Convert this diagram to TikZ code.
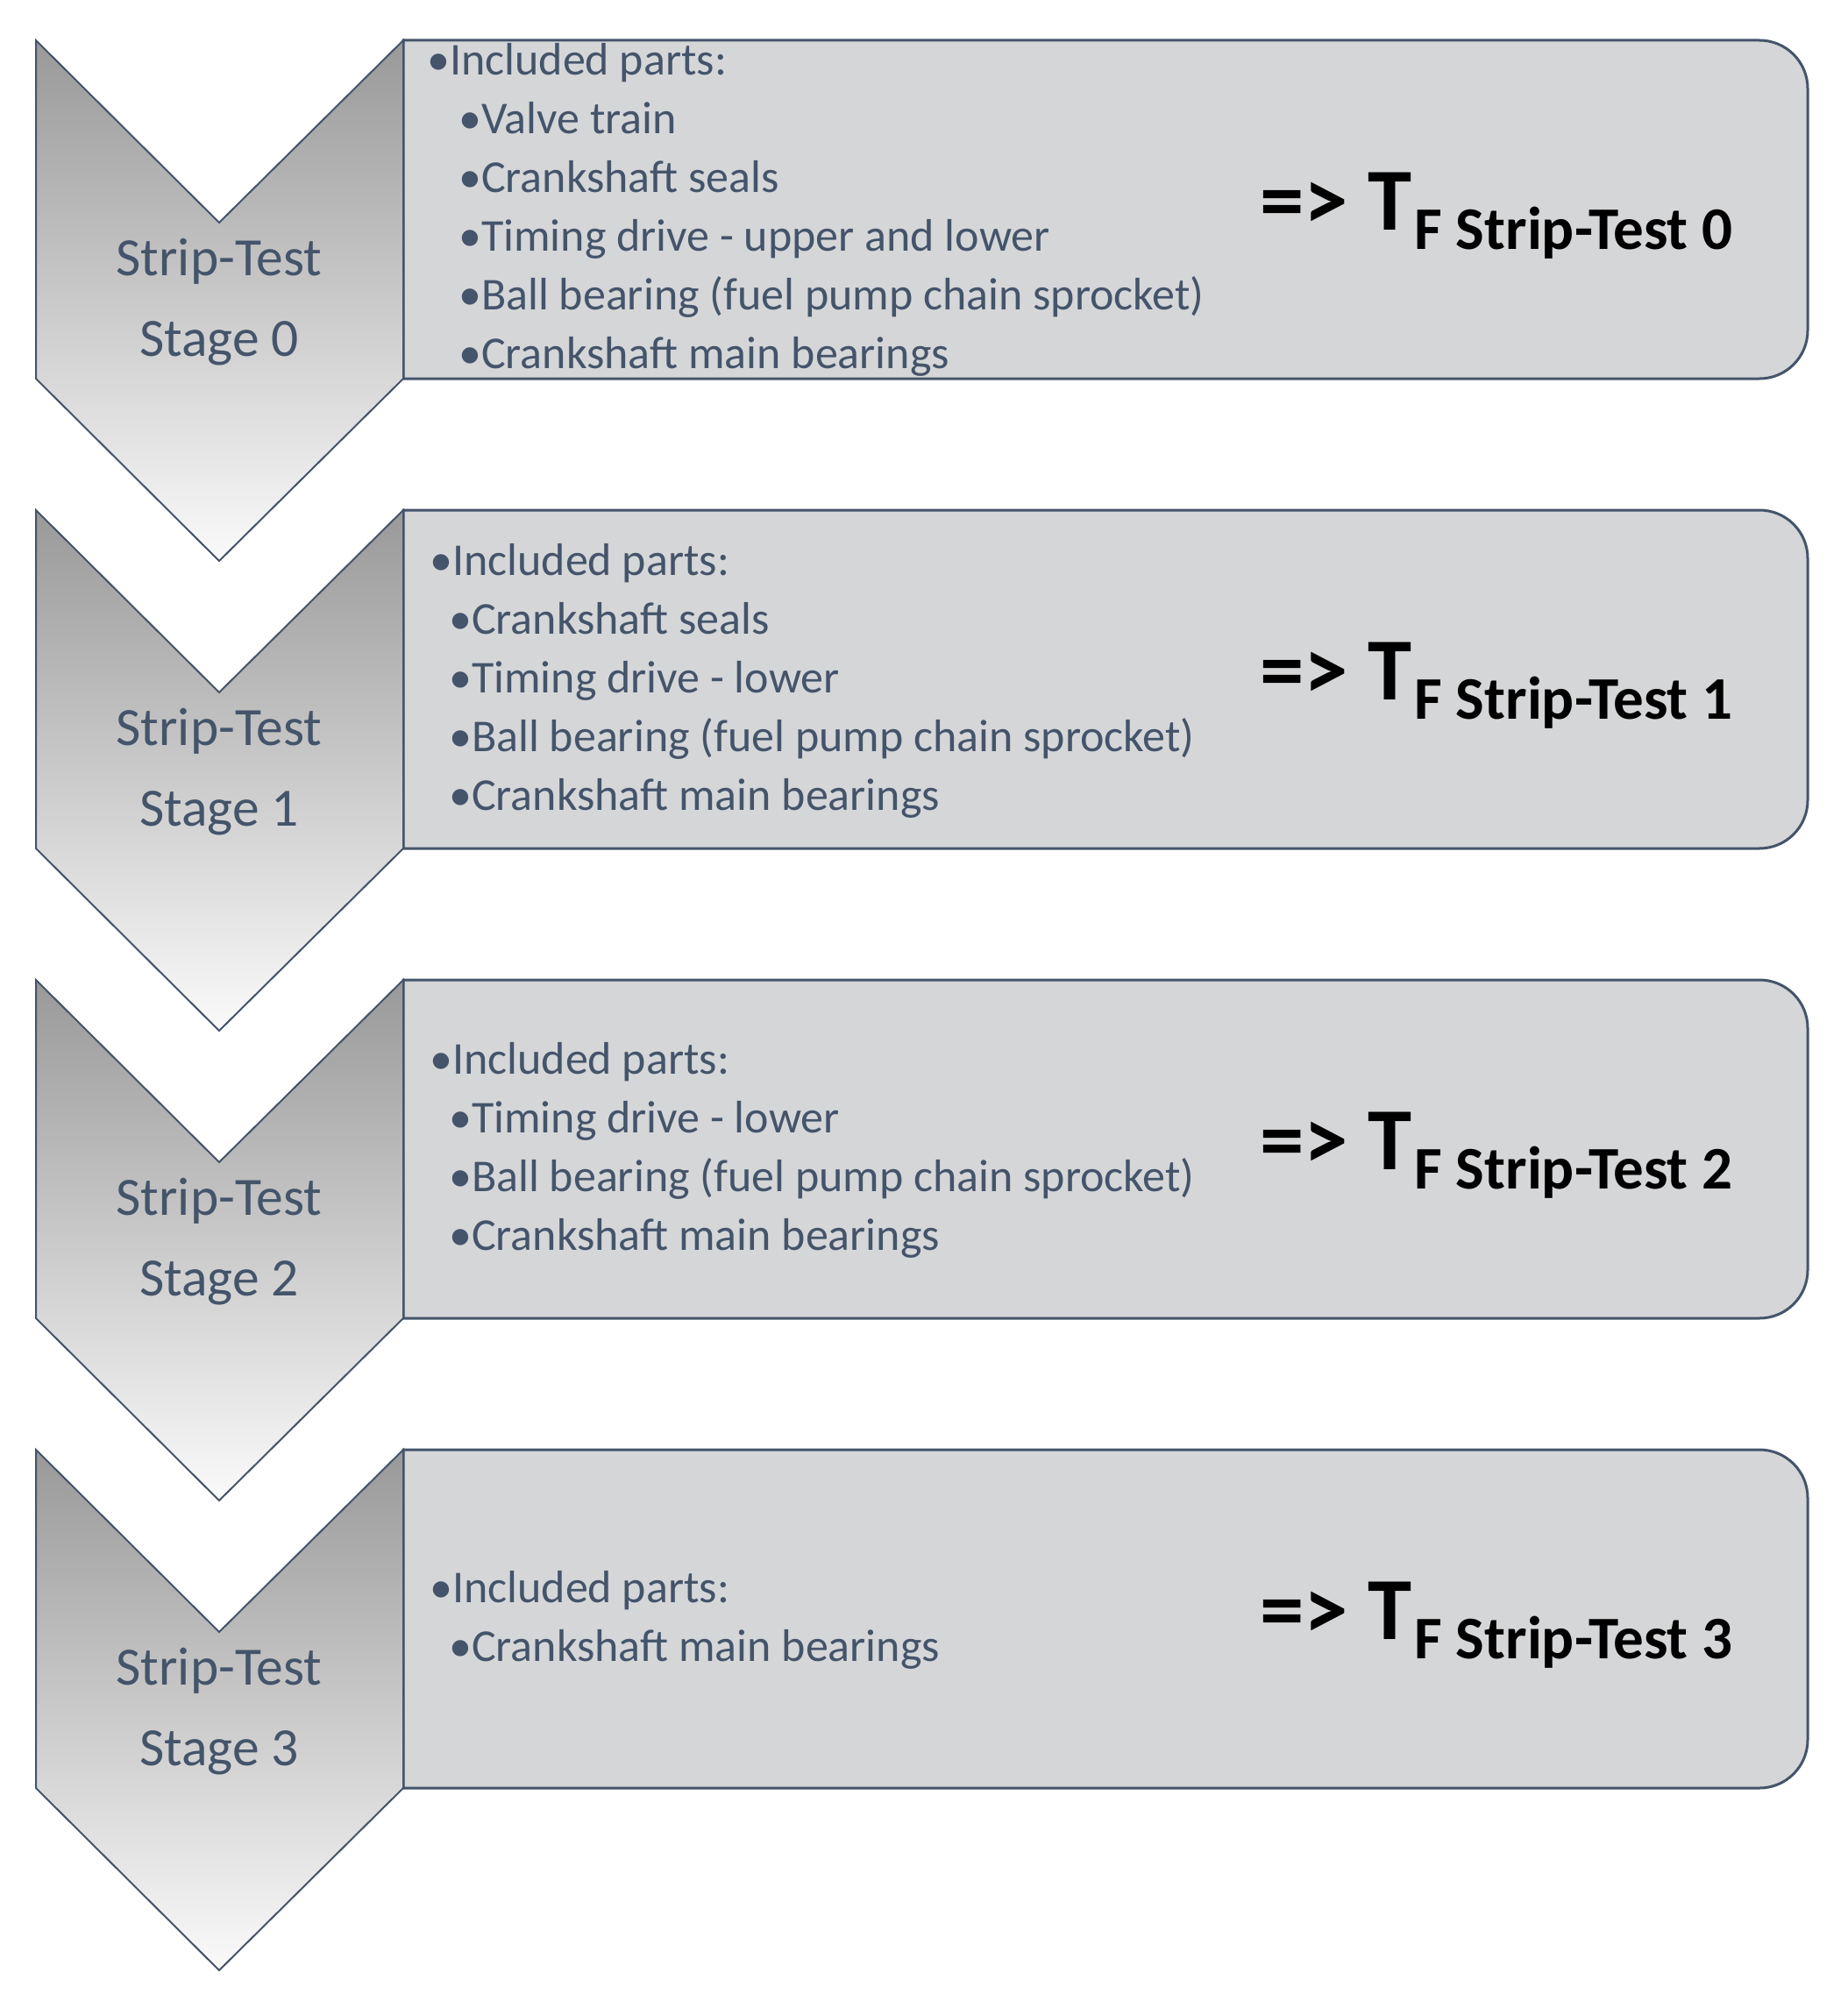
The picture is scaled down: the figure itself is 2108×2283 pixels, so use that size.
\documentclass[tikz,border=0pt]{standalone}
\usepackage{fontspec}
\setmainfont{Carlito}
\usepackage{tikz}
\usetikzlibrary{calc}

\definecolor{slate}{HTML}{44546A}
\definecolor{boxgrey}{HTML}{D5D6D8}

\tikzset{
  chevron/.style={draw=slate, line width=2pt, top color=black!40, bottom color=black!2},
  partbox/.style={draw=slate, line width=3pt, fill=boxgrey},
  stagetext/.style={text=slate, font=\fontsize{61.5}{72}\selectfont, anchor=base, inner sep=0pt},
  parttext/.style={text=slate, font=\fontsize{52}{61}\selectfont, anchor=base west, inner sep=0pt},
  result/.style={font=\bfseries\fontsize{101}{110}\selectfont, anchor=base west, inner sep=0pt}
}

\begin{document}
\begin{tikzpicture}[x=1pt, y=-1pt]

    \useasboundingbox (0,0) rectangle (2108,2283);

    % -------------------------
    % Boxes and chevrons
    % -------------------------
    \foreach \k in {0,...,3} {
        \begin{scope}[yshift={-\k*536pt}]
            \draw[partbox] (460,46) -- (2007,46)
                arc[start angle=-90, end angle=0, radius=55] -- (2062,377)
                arc[start angle=0, end angle=90, radius=55] -- (460,432) -- cycle;
            \draw[chevron] (41,46) -- (250,254) -- (460,46) -- (460,432)
                -- (250,640) -- (41,432) -- cycle;
        \end{scope}
    }

    % -------------------------
    % Stage labels and results
    % -------------------------
    \foreach \k in {0,...,3} {
        \node[stagetext] (strip\k) at (250,{314+536*\k}) {Strip-Test};
        \node[stagetext] (stage\k) at (250,{406+536*\k}) {Stage \k};
        \node[result] (tf\k) at (1437,{262+536*\k})
            {=>~T\kern3pt\raisebox{-22pt}{\fontsize{69}{69}\selectfont F Strip-Test \k}};
    }

    % -------------------------
    % Included parts
    % -------------------------

    % Stage 0
    \node[parttext] (inc0) at (487,85) {•Included parts:};
    \node[parttext] (p0a) at (523,152) {•Valve train};
    \node[parttext] (p0b) at (523,219) {•Crankshaft seals};
    \node[parttext] (p0c) at (523,286) {•Timing drive - upper and lower};
    \node[parttext] (p0d) at (523,353) {•Ball bearing (fuel pump chain sprocket)};
    \node[parttext] (p0e) at (523,420) {•Crankshaft main bearings};

    % Stage 1
    \node[parttext] (inc1) at (490,656) {•Included parts:};
    \node[parttext] (p1a) at (512,723) {•Crankshaft seals};
    \node[parttext] (p1b) at (512,790) {•Timing drive - lower};
    \node[parttext] (p1c) at (512,857) {•Ball bearing (fuel pump chain sprocket)};
    \node[parttext] (p1d) at (512,924) {•Crankshaft main bearings};

    % Stage 2
    \node[parttext] (inc2) at (490,1225) {•Included parts:};
    \node[parttext] (p2a) at (512,1292) {•Timing drive - lower};
    \node[parttext] (p2b) at (512,1359) {•Ball bearing (fuel pump chain sprocket)};
    \node[parttext] (p2c) at (512,1426) {•Crankshaft main bearings};

    % Stage 3
    \node[parttext] (inc3) at (490,1828) {•Included parts:};
    \node[parttext] (p3a) at (512,1895) {•Crankshaft main bearings};

\end{tikzpicture}
\end{document}
